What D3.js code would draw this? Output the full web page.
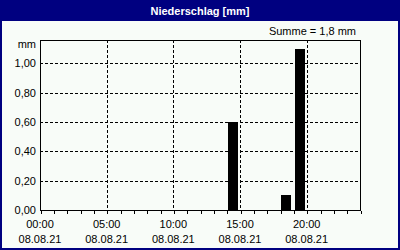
<!DOCTYPE html>
<html>
<head>
<meta charset="utf-8">
<script src="https://cdn.jsdelivr.net/npm/d3@7"></script>
<style>
html,body{margin:0;padding:0;background:#fff;}
svg{display:block;}
text{font-family:"Liberation Sans",Arial,sans-serif;}
</style>
</head>
<body>
<script>
const title = "Niederschlag [mm]";
const sumLabel = "Summe = 1,8 mm";
const unitLabel = "mm";
const hours = d3.range(0, 24);
const values = [0,0,0,0,0,0,0,0,0,0,0,0,0,0,0.6,0,0,0,0.1,1.1,0,0,0,0];
const yTicks = [0, 0.2, 0.4, 0.6, 0.8, 1.0];
const xTicks = [0, 5, 10, 15, 20];
const xTimeLabels = ["00:00","05:00","10:00","15:00","20:00"];
const xDateLabels = ["08.08.21","08.08.21","08.08.21","08.08.21","08.08.21"];

const W = 400, H = 250;
const svg = d3.select("body").append("svg").attr("width", W).attr("height", H);

// background & frame
svg.append("rect").attr("x",0).attr("y",0).attr("width",W).attr("height",H).attr("fill","#000080");
svg.append("rect").attr("x",2).attr("y",21).attr("width",W-4).attr("height",H-23).attr("fill","#f8fcf8");

svg.append("text").attr("x",200).attr("y",15).attr("text-anchor","middle")
  .attr("fill","#fff").attr("font-weight","bold").attr("font-size","11px").text(title);

const L = 40, R = 360, T = 40, B = 210;
const x = d3.scaleLinear().domain([0,24]).range([L,R]);
const y = d3.scaleLinear().domain([0,1.16]).range([B,T]);

const g = svg.append("g");
// grid
g.selectAll(".hg").data(yTicks.filter(d=>d>0)).enter().append("line")
  .attr("x1",L).attr("x2",R).attr("y1",d=>Math.round(y(d))+0.5).attr("y2",d=>Math.round(y(d))+0.5)
  .attr("stroke","#000").attr("stroke-dasharray","3,2").attr("shape-rendering","crispEdges");
g.selectAll(".vg").data(xTicks.filter(d=>d>0)).enter().append("line")
  .attr("y1",T).attr("y2",B).attr("x1",d=>Math.round(x(d))+0.5).attr("x2",d=>Math.round(x(d))+0.5)
  .attr("stroke","#000").attr("stroke-dasharray","3,2").attr("shape-rendering","crispEdges");

// bars
const bw = (x(1)-x(0))*0.72;
g.selectAll(".bar").data(hours.filter(h=>values[h]>0)).enter().append("rect")
  .attr("x",h=>Math.round(x(h)+1.3)).attr("width",Math.round(bw))
  .attr("y",h=>Math.round(y(values[h]))).attr("height",h=>B-Math.round(y(values[h])))
  .attr("fill","#000").attr("shape-rendering","crispEdges");

// frame of plot
g.append("rect").attr("x",L+0.5).attr("y",T+0.5).attr("width",R-L).attr("height",B-T)
  .attr("fill","none").attr("stroke","#000").attr("shape-rendering","crispEdges");

// x axis minor ticks
const xAxis = d3.axisBottom(x).tickValues(d3.range(0,25)).tickSize(3).tickFormat("");
const xa = svg.append("g").attr("transform",`translate(0.5,${B+0.5})`).call(xAxis);
xa.select(".domain").remove();
xa.selectAll("line").attr("stroke","#000").attr("shape-rendering","crispEdges");

// x labels
const xl = svg.append("g");
xl.selectAll(".t").data(xTicks).enter().append("text")
  .attr("x",d=>x(d)).attr("y",228).attr("text-anchor","middle").attr("font-size","11px").attr("fill","#000")
  .text((d,i)=>xTimeLabels[i]);
xl.selectAll(".dd").data(xTicks).enter().append("text")
  .attr("x",d=>x(d)).attr("y",243).attr("text-anchor","middle").attr("font-size","11px").attr("fill","#000")
  .text((d,i)=>xDateLabels[i]);

// y labels
const fmt = d => d3.format(".2f")(d).replace(".",",");
svg.append("g").selectAll("text").data(yTicks).enter().append("text")
  .attr("x",36).attr("y",d=>y(d)+4).attr("text-anchor","end").attr("font-size","11px").attr("fill","#000")
  .text(fmt);
svg.append("text").attr("x",36).attr("y",48).attr("text-anchor","end").attr("font-size","11px").text(unitLabel);

svg.append("text").attr("x",356).attr("y",35).attr("text-anchor","end").attr("font-size","11px").text(sumLabel);
</script>
</body>
</html>
